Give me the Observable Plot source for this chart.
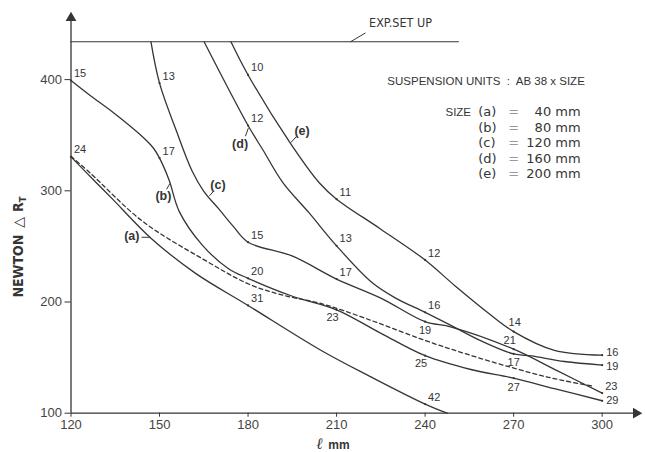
<!DOCTYPE html>
<html>
<head>
<meta charset="utf-8">
<script src="https://cdn.jsdelivr.net/npm/d3@7"></script>
<script src="https://cdn.jsdelivr.net/npm/@observablehq/plot@0.6"></script>
<style>
  body { margin: 0; background: #fff; }
  #chart { width: 645px; height: 452px; }
</style>
</head>
<body>
<div id="chart"></div>
<script>
// ---------- axes ----------
const xTicks = [120, 150, 180, 210, 240, 270, 300];
const yTicks = [100, 200, 300, 400];

// ---------- legend ----------
const sizeIds = ["(a)", "(b)", "(c)", "(d)", "(e)"];
const sizeMM = ["40 mm", "80 mm", "120 mm", "160 mm", "200 mm"];
const legendTitle = "SUSPENSION UNITS  :  AB 38 x SIZE";
const expLabel = "EXP.SET UP";
const expLevel = 434;            // experimental set-up limit (N)
const expRange = [120, 251.6];   // l range of that line

// ---------- curves: l (mm) vs NEWTON ΔRT ----------
// (a) size 40 mm
const aX = [120, 128.5, 134.1, 147, 162.1, 180, 204.8, 221.6, 240, 247.5];
const aY = [330.5, 307.5, 292.5, 257.6, 226, 196.9, 156.4, 132.7, 108.2, 100];
const aN = ["24", "", "", "", "", "31", "", "", "42", ""];
// (b) size 80 mm
const bX = [120, 126.6, 134.4, 143.4, 147.9, 150, 153.2, 156.7, 164.5, 173.4, 180, 194.8, 210, 225.2, 240, 255.5, 270, 283.8, 300];
const bY = [399.2, 385.5, 370.3, 350.6, 338.5, 329.4, 310, 281.3, 251.2, 229.9, 221.3, 205.4, 193, 171.6, 151.7, 139.3, 131.5, 122.1, 111.2];
const bN = ["15", "", "", "", "", "17", "", "", "", "", "20", "", "23", "", "25", "", "27", "", "29"];
// (c) size 120 mm
const cX = [147.1, 150, 155.8, 161, 165, 170, 175, 180, 194.9, 210, 225.3, 240, 248.9, 270, 284.9, 300];
const cY = [434, 396.9, 353.3, 318, 299.5, 284, 268, 253.8, 241.4, 220.6, 203.1, 182.3, 177.5, 157.6, 138, 118.1];
const cN = ["", "13", "", "", "", "", "", "15", "", "17", "", "19", "", "21", "", "23"];
// (d) size 160 mm
const dX = [165.1, 180, 185.1, 191.8, 200.7, 210, 222, 230, 240, 248.9, 259, 270, 276, 287.2, 300];
const dY = [434, 358.7, 336.5, 307.4, 280.1, 250.5, 217.5, 203.5, 190.7, 178.8, 165, 153.3, 151.5, 146.5, 143.3];
const dN = ["", "12", "", "", "", "13", "", "", "16", "", "", "17", "", "", "19"];
// (e) size 200 mm
const eX = [174.2, 180, 194.2, 204.2, 210, 225, 240, 250.2, 261.4, 270, 283.8, 300];
const eY = [434, 404.2, 343.3, 307, 292.5, 265.5, 237.8, 214.4, 190.1, 173.4, 156.6, 152.2];
const eN = ["", "10", "", "", "11", "", "12", "", "", "14", "", "16"];
// dashed reference curve
const dashX = [120, 126.3, 144.2, 164.4, 180.2, 192, 204.9, 222.5, 240.2, 254.5, 270.1, 283.7, 297.3];
const dashY = [331, 316.5, 272.7, 239.1, 216.2, 206, 198.5, 182.7, 165.2, 152.8, 140.5, 131.1, 124.1];

// curve letters with their leader lines (data coordinates)
const letterText = ["(a)", "(b)", "(c)", "(d)", "(e)"];
const letterX = [140.6, 151.3, 169.8, 177.3, 198.3];
const letterY = [259.3, 295, 305, 342.2, 354.2];
const leaderX1 = [143.9, 152.4, 168.1, 179.1, 196.3];
const leaderY1 = [258.2, 301.3, 299, 349.1, 348.6];
const leaderX2 = [146.8, 153.5, 166.9, 180.1, 194.5];
const leaderY2 = [258.2, 306.5, 295.5, 356.3, 343.3];

// label placement around a numbered point
const labelPlace = {
  a24: "ne", a31: "ne", a42: "ne",
  b15: "ne", b17: "ne", b20: "ne", b23: "sw", b25: "sw", b27: "s", b29: "e",
  c13: "ne", c15: "ne", c17: "ne", c19: "s", c21: "nw", c23: "ne",
  d12: "ne", d13: "ne", d16: "ne", d17: "s", d19: "es",
  e10: "ne", e11: "ne", e12: "ne", e14: "n", e16: "en"
};
const placeStyle = {
  ne: {textAnchor: "start", dx: 3, dy: -7},
  n: {textAnchor: "middle", dx: 1, dy: -9},
  nw: {textAnchor: "middle", dx: -4, dy: -9},
  s: {textAnchor: "middle", dx: 0, dy: 9},
  sw: {textAnchor: "middle", dx: -4, dy: 8},
  e: {textAnchor: "start", dx: 4, dy: 0},
  en: {textAnchor: "start", dx: 4, dy: -3},
  es: {textAnchor: "start", dx: 4, dy: 1}
};

// ---------- build tables ----------
function series(id, xs, ys, ns) {
  return xs.map((x, i) => ({id, x, y: ys[i], n: ns ? ns[i] : ""}));
}
const curves = [
  series("a", aX, aY, aN),
  series("b", bX, bY, bN),
  series("c", cX, cY, cN),
  series("d", dX, dY, dN),
  series("e", eX, eY, eN)
];
const dashed = series("dash", dashX, dashY, null);
const numbered = curves.flat().filter(d => d.n !== "");
numbered.forEach(d => d.place = labelPlace[d.id + d.n] || "ne");

const letters = letterText.map((t, i) => ({t, x: letterX[i], y: letterY[i],
  x1: leaderX1[i], y1: leaderY1[i], x2: leaderX2[i], y2: leaderY2[i]}));

const legendRows = sizeIds.map((s, i) => ({s, v: sizeMM[i], y: 370.7 - i * 13.9}));

const ink = "#353535";
const sans = "Liberation Sans, Arial, Helvetica, sans-serif";
const narrow = "'Liberation Sans Narrow', 'DejaVu Sans Condensed', 'Liberation Sans', Arial, sans-serif";
const round = "'DejaVu Sans', 'Liberation Sans', sans-serif";

const marks = [
  // axis lines with filled arrow heads
  Plot.ruleY([100], {x1: 120, x2: 311, stroke: ink, strokeWidth: 1.3}),
  Plot.ruleX([120], {y1: 100, y2: 455, stroke: ink, strokeWidth: 1.3}),
  Plot.dot([{x: 311.5, y: 100}], {x: "x", y: "y", symbol: "triangle", r: 4, fill: ink, stroke: null, rotate: 90}),
  Plot.dot([{x: 120, y: 455.5}], {x: "x", y: "y", symbol: "triangle", r: 4, fill: ink, stroke: null}),
  Plot.axisX(xTicks, {tickSize: 4, tickPadding: 3, fontSize: 13, label: null, stroke: ink, fill: "#444", fontFamily: sans}),
  Plot.axisY(yTicks, {tickSize: 6, tickPadding: 3, fontSize: 13, label: null, stroke: ink, fill: "#444", fontFamily: sans}),
  // experimental set-up limit
  Plot.ruleY([expLevel], {x1: expRange[0], x2: expRange[1], stroke: ink, strokeWidth: 1.1}),
  Plot.link([{x1: 214.7, y1: expLevel, x2: 219.8, y2: 442}], {x1: "x1", y1: "y1", x2: "x2", y2: "y2", stroke: ink, strokeWidth: 1}),
  Plot.text([expLabel], {x: 221, y: 450.5, text: d => d, textAnchor: "start", fontSize: 12.5, fontFamily: narrow, fill: ink}),
  // curves
  ...curves.map(c => Plot.line(c, {x: "x", y: "y", curve: "catmull-rom", stroke: ink, strokeWidth: 1.3})),
  Plot.line(dashed, {x: "x", y: "y", curve: "catmull-rom", stroke: ink, strokeWidth: 1.3, strokeDasharray: "4,3"}),
  // numbered points
  Plot.dot(numbered, {x: "x", y: "y", r: 1.1, fill: ink, stroke: null}),
  ...Object.keys(placeStyle).map(p => Plot.text(numbered.filter(d => d.place === p),
      {x: "x", y: "y", text: "n", ...placeStyle[p], fontSize: 11, fontFamily: sans, fill: ink})),
  // curve letters
  Plot.link(letters, {x1: "x1", y1: "y1", x2: "x2", y2: "y2", stroke: ink, strokeWidth: 1}),
  Plot.text(letters, {x: "x", y: "y", text: "t", fontSize: 12.5, fontWeight: "bold", fontFamily: sans, fill: ink}),
  // legend
  Plot.text([legendTitle], {x: 227.2, y: 398.3, text: d => d, textAnchor: "start", fontSize: 11.5, fontFamily: sans, fill: ink}),
  Plot.text(["SIZE"], {x: 246.9, y: 370.7, text: d => d, textAnchor: "start", fontSize: 11.5, fontFamily: sans, fill: ink}),
  Plot.text(legendRows, {x: 258, y: "y", text: "s", textAnchor: "start", fontSize: 13, fontFamily: round, fill: ink}),
  Plot.text(legendRows, {x: 270, y: "y", text: d => "=", textAnchor: "middle", fontSize: 13, fontFamily: round, fill: "#999"}),
  Plot.text(legendRows, {x: 292.7, y: "y", text: "v", textAnchor: "end", fontSize: 13, fontFamily: round, fill: ink})
];

const plot = Plot.plot({
  width: 645,
  height: 452,
  marginLeft: 70.5,
  marginRight: 3.5,
  marginTop: 12.4,
  marginBottom: 39.3,
  x: {domain: [120, 313.5]},
  y: {domain: [100, 460]},
  axis: null,
  style: {background: "#fff", color: ink, fontFamily: sans},
  marks
});

// axis titles
const svg = d3.select(plot);
svg.selectAll("text").style("white-space", "pre");
const yt = svg.append("text")
  .attr("transform", "translate(22.5,247) rotate(-90)")
  .attr("text-anchor", "middle")
  .attr("font-family", narrow)
  .attr("font-weight", "bold")
  .attr("font-size", 14)
  .attr("fill", ink);
yt.append("tspan").text("NEWTON");
yt.append("tspan").attr("dx", 7).attr("font-weight", "normal").attr("font-family", round).text("\u25B3");
yt.append("tspan").attr("dx", 5).text("R");
yt.append("tspan").attr("dy", 3).attr("font-size", 9.5).text("T");

const xt = svg.append("text")
  .attr("x", 333)
  .attr("y", 449)
  .attr("text-anchor", "middle")
  .attr("font-weight", "bold")
  .attr("fill", ink);
xt.append("tspan").attr("font-family", "'DejaVu Serif', serif").attr("font-style", "italic").attr("font-size", 16).text("\u2113");
xt.append("tspan").attr("dx", 5).attr("font-family", sans).attr("font-size", 12).text("mm");

document.getElementById("chart").appendChild(plot);
</script>
</body>
</html>
